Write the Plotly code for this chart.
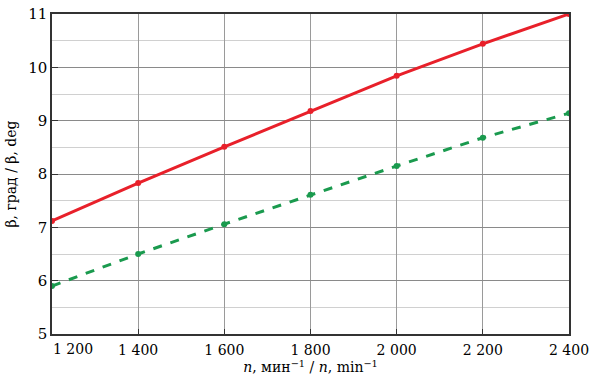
import plotly.graph_objects as go

n_vals = [1200, 1400, 1600, 1800, 2000, 2200, 2400]
beta_red = [7.12, 7.83, 8.51, 9.18, 9.84, 10.44, 11.0]
beta_green = [5.90, 6.50, 7.06, 7.61, 8.15, 8.68, 9.14]
x_tick_vals = [1200, 1400, 1600, 1800, 2000, 2200, 2400]
x_tick_text = ["1 200", "1 400", "1 600", "1 800", "2 000", "2 200", "2 400"]
y_tick_vals = [5, 6, 7, 8, 9, 10, 11]

SERIF = "DejaVu Serif"

fig = go.Figure()
fig.add_trace(go.Scatter(x=n_vals, y=beta_red, mode="lines+markers",
                         line=dict(color="#e8202a", width=3),
                         marker=dict(color="#e8202a", size=6), showlegend=False))
fig.add_trace(go.Scatter(x=n_vals, y=beta_green, mode="lines+markers",
                         line=dict(color="#1a9a4e", width=3, dash="dash"),
                         marker=dict(color="#1a9a4e", size=6), showlegend=False))

# first x tick label is drawn left-aligned at the axis start (as in the reference)
shown_text = [""] + x_tick_text[1:]
fig.add_annotation(x=x_tick_vals[0], y=0, xref="x", yref="paper",
                   text=x_tick_text[0], showarrow=False,
                   xanchor="left", yanchor="top", xshift=-1, yshift=-5,
                   font=dict(family=SERIF, size=14, color="black"))

fig.update_layout(
    width=613, height=387,
    margin=dict(l=52, r=44, t=14, b=53, autoexpand=False),
    plot_bgcolor="white", paper_bgcolor="white",
    font=dict(family=SERIF, color="black", size=15),
    xaxis=dict(range=[1200, 2400], tickvals=x_tick_vals, ticktext=shown_text,
               automargin=False,
               showgrid=True, gridcolor="#9a9a9a", gridwidth=1,
               showline=True, linecolor="#333", linewidth=1.5, mirror=True,
               ticks="inside", ticklen=5, tickcolor="#333", ticklabelstandoff=2,
               zeroline=False, tickfont=dict(family=SERIF, size=14, color="black"),
               title=dict(text="<i>n</i>, мин<sup>−1</sup> / <i>n</i>, min<sup>−1</sup>",
                          font=dict(family=SERIF, size=14, color="black"), standoff=4)),
    yaxis=dict(range=[5, 11], tickvals=y_tick_vals,
               automargin=False,
               showgrid=True, gridcolor="#8a8a8a", gridwidth=1,
               minor=dict(dtick=0.5, showgrid=True, gridcolor="#d0d0d0", gridwidth=1),
               showline=True, linecolor="#333", linewidth=1.5, mirror=True,
               ticks="inside", ticklen=6, tickcolor="#333",
               zeroline=False, tickfont=dict(family=SERIF, size=15, color="black"),
               title=dict(text="β, град / β, deg",
                          font=dict(family=SERIF, size=14, color="black"), standoff=8)),
)
fig.write_html("out.html", post_script="document.body.style.margin='0';",
               config={"displayModeBar": False})
